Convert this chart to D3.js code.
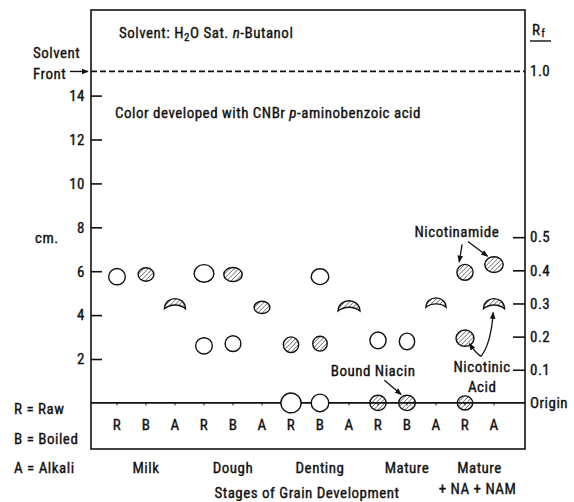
<!DOCTYPE html>
<html>
<head>
<meta charset="utf-8">
<script src="https://cdn.jsdelivr.net/npm/d3@7"></script>
<style>
  body { margin: 0; background: #fff; }
  svg { font-family: "Liberation Sans Narrow", "Roboto Condensed", "DejaVu Sans Condensed", sans-serif; }
  text { fill: #111; stroke: #111; stroke-width: 0.35px; letter-spacing: 0.5px; }
</style>
</head>
<body>
<svg width="574" height="502"></svg>
<script>
// columns along the strip: R = raw, B = boiled, A = alkali
const columns = ["R", "B", "A", "R", "B", "A", "R", "B", "A", "R", "B", "A", "R", "A"];
// stage labels and the column they sit under
const stages = [
  { name: "Milk", col: 1 },
  { name: "Dough", col: 4 },
  { name: "Denting", col: 7 },
  { name: "Mature", col: 10 },
  { name: "Mature", col: 12.5 }
];
const cmTicks = [2, 4, 6, 8, 10, 12, 14];
const rfTicks = [0.1, 0.2, 0.3, 0.4, 0.5];
const solventFront = 15.1; // cm, Rf = 1.0

// spots: column, distance in cm, kind, half-width / half-height in cm
const spots = [
  { col: 0, cm: 5.75, kind: "open", rx: 0.38, ry: 0.37 },
  { col: 1, cm: 5.85, kind: "hatch", rx: 0.36, ry: 0.31 },
  { col: 2, cm: 4.5, kind: "crescent", rx: 0.48, ry: 0.3 },
  { col: 3, cm: 5.9, kind: "open", rx: 0.45, ry: 0.4 },
  { col: 3, cm: 2.6, kind: "open", rx: 0.38, ry: 0.37 },
  { col: 4, cm: 5.85, kind: "hatch", rx: 0.42, ry: 0.32 },
  { col: 4, cm: 2.7, kind: "open", rx: 0.36, ry: 0.36 },
  { col: 5, cm: 4.35, kind: "hatch", rx: 0.36, ry: 0.28 },
  { col: 6, cm: 2.65, kind: "hatch", rx: 0.35, ry: 0.36 },
  { col: 6, cm: 0, kind: "open", rx: 0.46, ry: 0.45 },
  { col: 7, cm: 5.75, kind: "open", rx: 0.4, ry: 0.36 },
  { col: 7, cm: 2.7, kind: "hatch", rx: 0.33, ry: 0.34 },
  { col: 7, cm: 0, kind: "open", rx: 0.4, ry: 0.4 },
  { col: 8, cm: 4.4, kind: "crescent", rx: 0.5, ry: 0.3 },
  { col: 9, cm: 2.85, kind: "open", rx: 0.37, ry: 0.38 },
  { col: 9, cm: 0, kind: "hatch", rx: 0.37, ry: 0.35 },
  { col: 10, cm: 2.8, kind: "open", rx: 0.35, ry: 0.38 },
  { col: 10, cm: 0, kind: "hatch", rx: 0.38, ry: 0.35 },
  { col: 11, cm: 4.55, kind: "crescent", rx: 0.46, ry: 0.28 },
  { col: 12, cm: 5.95, kind: "hatch", rx: 0.37, ry: 0.36 },
  { col: 12, cm: 2.95, kind: "hatch", rx: 0.41, ry: 0.37 },
  { col: 12, cm: 0, kind: "hatch", rx: 0.35, ry: 0.32 },
  { col: 13, cm: 6.3, kind: "hatch", rx: 0.42, ry: 0.36 },
  { col: 13, cm: 4.5, kind: "crescent", rx: 0.48, ry: 0.3 }
];

const svg = d3.select("svg");
const plotLeft = 91, plotRight = 525, plotTop = 10, plotBottom = 449;
const fs = 15;

const y = d3.scaleLinear().domain([-2.1, 17.9]).range([plotBottom, plotTop]);
const rf = d3.scaleLinear().domain([0, 1]).range([y(0), y(solventFront)]);
const x = d3.scaleLinear().domain([0, 13]).range([117, 494]);
const pxPerCm = y(0) - y(1);

// hatch pattern
const defs = svg.append("defs");
defs.append("pattern")
  .attr("id", "hatch")
  .attr("patternUnits", "userSpaceOnUse")
  .attr("width", 3.2).attr("height", 3.2)
  .attr("patternTransform", "rotate(45)")
  .append("line")
  .attr("x1", 0).attr("y1", 0).attr("x2", 0).attr("y2", 3.2)
  .attr("stroke", "#222").attr("stroke-width", 1);

defs.append("marker")
  .attr("id", "arrow")
  .attr("viewBox", "0 0 10 10")
  .attr("refX", 9).attr("refY", 5)
  .attr("markerWidth", 7).attr("markerHeight", 7)
  .attr("orient", "auto-start-reverse")
  .attr("markerUnits", "userSpaceOnUse")
  .append("path")
  .attr("d", "M0,1 L10,5 L0,9 Z")
  .attr("fill", "#111");

// frame
svg.append("rect")
  .attr("x", plotLeft).attr("y", plotTop)
  .attr("width", plotRight - plotLeft).attr("height", plotBottom - plotTop)
  .attr("fill", "none").attr("stroke", "#111").attr("stroke-width", 1.6);

// origin line
svg.append("line")
  .attr("x1", plotLeft).attr("x2", plotRight)
  .attr("y1", y(0)).attr("y2", y(0))
  .attr("stroke", "#111").attr("stroke-width", 1.8);

// tiny marks on origin where samples were applied
svg.append("g").selectAll("line").data(columns).join("line")
  .attr("x1", (d, i) => x(i)).attr("x2", (d, i) => x(i))
  .attr("y1", y(0)).attr("y2", y(0) + 2.5)
  .attr("stroke", "#111").attr("stroke-width", 1);

// solvent front (dashed)
svg.append("line")
  .attr("x1", plotLeft).attr("x2", plotRight)
  .attr("y1", y(solventFront)).attr("y2", y(solventFront))
  .attr("stroke", "#111").attr("stroke-width", 1.8)
  .attr("stroke-dasharray", "6,3");

// left axis (cm)
const yAxis = d3.axisLeft(y).tickValues(cmTicks).tickSizeInner(-11).tickSizeOuter(0).tickPadding(6);
const gy = svg.append("g").attr("transform", `translate(${plotLeft},0)`).call(yAxis);
gy.select(".domain").remove();
gy.selectAll(".tick line").attr("stroke", "#111").attr("stroke-width", 1.6);
gy.selectAll(".tick text").attr("font-size", fs).attr("fill", "#111");

// right axis (Rf)
const rfAxis = d3.axisRight(rf).tickValues(rfTicks).tickFormat(d3.format(".1f"))
  .tickSizeInner(-12).tickSizeOuter(0).tickPadding(5);
const gr = svg.append("g").attr("transform", `translate(${plotRight},0)`).call(rfAxis);
gr.select(".domain").remove();
gr.selectAll(".tick line").attr("stroke", "#111").attr("stroke-width", 1.6);
gr.selectAll(".tick text").attr("font-size", fs).attr("fill", "#111");

// axis groups set their own font attributes; let the svg font apply
gy.attr("font-family", null).attr("font-size", null);
gr.attr("font-family", null).attr("font-size", null);

svg.append("text").attr("x", plotRight + 5).attr("y", rf(1) + 5)
  .attr("font-size", fs).text("1.0");
const rfLabel = svg.append("text").attr("x", plotRight + 7).attr("y", 35).attr("font-size", fs);
rfLabel.append("tspan").text("R");
rfLabel.append("tspan").attr("font-size", 10).attr("dx", 1).attr("dy", 2).text("f");
svg.append("line").attr("x1", plotRight + 5).attr("x2", plotRight + 26)
  .attr("y1", 41).attr("y2", 41).attr("stroke", "#111").attr("stroke-width", 1.4);
svg.append("text").attr("x", plotRight + 5).attr("y", y(0) + 5)
  .attr("font-size", fs).text("Origin");

// left side labels
svg.append("text").attr("x", 33).attr("y", 58).attr("font-size", fs).text("Solvent");
svg.append("text").attr("x", 33).attr("y", 79).attr("font-size", fs).text("Front");
svg.append("line").attr("x1", 70).attr("x2", 88)
  .attr("y1", y(solventFront)).attr("y2", y(solventFront))
  .attr("stroke", "#111").attr("stroke-width", 1.4).attr("marker-end", "url(#arrow)");
svg.append("text").attr("x", 35).attr("y", 243).attr("font-size", fs).text("cm.");

const legendLines = ["R = Raw", "B = Boiled", "A = Alkali"];
svg.append("g").selectAll("text").data(legendLines).join("text")
  .attr("x", 14).attr("y", (d, i) => 414 + i * 29.5)
  .attr("font-size", fs).text(d => d);

// headline texts inside plot
const t1 = svg.append("text").attr("x", 119).attr("y", 38).attr("font-size", fs);
t1.append("tspan").text("Solvent: H");
t1.append("tspan").attr("font-size", 11).attr("dy", 3).text("2");
t1.append("tspan").attr("dy", -3).text("O Sat. ");
t1.append("tspan").attr("font-style", "italic").text("n");
t1.append("tspan").text("-Butanol");

const t2 = svg.append("text").attr("x", 115).attr("y", 118).attr("font-size", fs);
t2.append("tspan").text("Color developed with CNBr ");
t2.append("tspan").attr("font-style", "italic").text("p");
t2.append("tspan").text("-aminobenzoic acid");

// column letters
svg.append("g").selectAll("text").data(columns).join("text")
  .attr("x", (d, i) => x(i)).attr("y", 430)
  .attr("text-anchor", "middle").attr("font-size", fs).text(d => d);

// stage labels
svg.append("g").selectAll("text").data(stages).join("text")
  .attr("x", d => x(d.col)).attr("y", 473)
  .attr("text-anchor", "middle").attr("font-size", fs).text(d => d.name);
svg.append("text").attr("x", x(12.5) - 2).attr("y", 494)
  .attr("text-anchor", "middle").attr("font-size", fs).text("+ NA + NAM");
svg.append("text").attr("x", 307).attr("y", 498)
  .attr("text-anchor", "middle").attr("font-size", fs).text("Stages of Grain Development");

// spots
function crescent(d) {
  const rx = d.rx * pxPerCm, ry = d.ry * pxPerCm;
  return `M${-rx},${ry * 0.7}` +
    `C${-rx * 0.95},${-ry * 1.35} ${rx * 0.95},${-ry * 1.35} ${rx},${ry * 0.7}` +
    `C${rx * 0.45},${-ry * 0.05} ${-rx * 0.45},${-ry * 0.05} ${-rx},${ry * 0.7}Z`;
}

const spotG = svg.append("g");
spotG.selectAll("ellipse").data(spots.filter(d => d.kind !== "crescent")).join("ellipse")
  .attr("cx", d => x(d.col)).attr("cy", d => y(d.cm))
  .attr("rx", d => d.rx * pxPerCm).attr("ry", d => d.ry * pxPerCm)
  .attr("fill", d => d.kind === "hatch" ? "url(#hatch)" : "#fff")
  .attr("stroke", "#111").attr("stroke-width", 1.4);

spotG.selectAll("path").data(spots.filter(d => d.kind === "crescent")).join("path")
  .attr("transform", d => `translate(${x(d.col)},${y(d.cm)})`)
  .attr("d", crescent)
  .attr("fill", "url(#hatch)")
  .attr("stroke", "#111").attr("stroke-width", 1.4);

// annotations (positions in column / cm units)
function note(txt, col, cm) {
  svg.append("text").attr("x", x(col)).attr("y", y(cm))
    .attr("text-anchor", "middle").attr("font-size", fs).text(txt);
}
function arrow(c0, v0, c1, v1, cc, vc) {
  const p = d3.path();
  p.moveTo(x(c0), y(v0));
  if (cc === undefined) p.lineTo(x(c1), y(v1));
  else p.quadraticCurveTo(x(cc), y(vc), x(c1), y(v1));
  svg.append("path").attr("d", p.toString())
    .attr("fill", "none").attr("stroke", "#111").attr("stroke-width", 1.3)
    .attr("marker-end", "url(#arrow)");
}

note("Nicotinamide", 11.72, 7.55);
arrow(11.9, 7.22, 11.8, 6.42);
arrow(12.1, 7.35, 12.78, 6.68);

note("Bound Niacin", 8.83, 1.22);
arrow(9.22, 1.03, 9.8, 0.38);

note("Nicotinic", 12.59, 1.41);
note("Acid", 12.59, 0.5);
arrow(12.55, 2.12, 12.15, 2.7, 12.35, 2.3);
arrow(12.55, 2.12, 12.97, 4.12, 12.9, 2.7);
</script>
</body>
</html>
